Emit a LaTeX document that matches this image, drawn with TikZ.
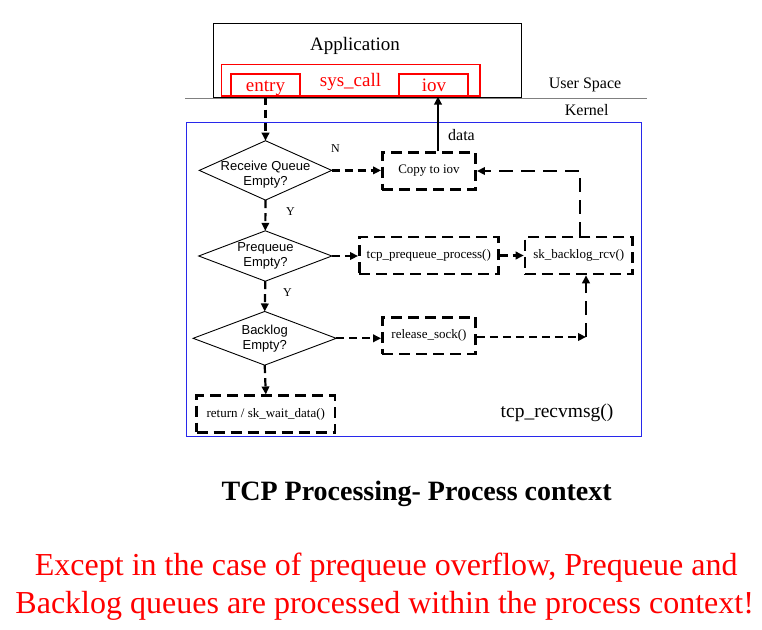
\documentclass[tikz,border=0pt]{standalone}
\usepackage{fontspec}
\setmainfont{Liberation Serif}
\newfontfamily\arialf{Liberation Sans}
\usetikzlibrary{arrows.meta,calc}
\definecolor{myred}{RGB}{255,0,0}
\definecolor{myblue}{RGB}{40,40,235}
\definecolor{mygray}{RGB}{128,128,128}
\begin{document}
\begin{tikzpicture}[x=1pt,y=-1pt,
  tip/.style={-{Triangle[length=8pt,width=7.5pt]}},
  dashbox/.style={draw, line width=2.5pt, dash pattern=on 11pt off 6pt, minimum width=#1, minimum height=37pt, inner sep=0pt, font=\fontsize{13}{15}\selectfont},
  decision/.style={minimum width=#1, inner sep=0pt, align=center, font=\arialf\fontsize{13}{15}\selectfont},
  dconn/.style={line width=2.2pt, dash pattern=on 8pt off 5pt, tip},
  lconn/.style={line width=2.2pt, dash pattern=on 14pt off 8pt, tip},
  lbl/.style={font=\fontsize{12}{14}\selectfont, inner sep=0pt},
  redbox/.style={draw=myred, line width=1.2pt}
]
\useasboundingbox (0,0) rectangle (762,629);

% user space
\node[draw, line width=1pt, minimum width=308pt, minimum height=74pt, inner sep=0pt] (app) at (367,60) {};
\node[anchor=base, font=\fontsize{19}{22}\selectfont, inner sep=0pt] (apptxt) at (355,50) {Application};
\node[redbox, minimum width=258.3pt, minimum height=31.7pt, inner sep=0pt] (sys) at (350.85,80.15) {};
\node[redbox, minimum width=69pt, minimum height=22pt, inner sep=0pt] (entry) at (265.5,85) {};
\node[redbox, minimum width=69pt, minimum height=22pt, inner sep=0pt] (iov) at (433.5,85) {};
\node[anchor=base, text=myred, font=\fontsize{19}{22}\selectfont, inner sep=0pt] (entrytxt) at (265.5,91) {entry};
\node[anchor=base, text=myred, font=\fontsize{19}{22}\selectfont, inner sep=0pt] (systxt) at (350.5,86.7) {sys\_call};
\node[anchor=base, text=myred, font=\fontsize{19}{22}\selectfont, inner sep=0pt] (iovtxt) at (434,91) {iov};

\coordinate (gl) at (185,98.3);
\coordinate (gr) at (647,98.3);
\draw[mygray, line width=1.5pt] (gl) -- (gr);
\node[anchor=base, font=\fontsize{16}{18}\selectfont, inner sep=0pt] (us) at (585,88.3) {User Space};
\node[anchor=base, font=\fontsize{16}{18}\selectfont, inner sep=0pt] (kn) at (586.7,115.7) {Kernel};

% kernel box
\node[draw=myblue, line width=1pt, minimum width=455pt, minimum height=314pt, inner sep=0pt] (kbox) at (413.5,279.7) {};

% decisions
\node[decision=132pt, minimum height=59pt] (rq) at (265.5,170.4) {};
\draw[line width=0.9pt] (rq.west) -- (rq.north) -- (rq.east) -- (rq.south) -- cycle;
\node[decision=132pt, align=center] (rqt) at (265.5,174.5) {Receive Queue\\Empty?};

\node[decision=132.7pt, minimum height=50pt] (pq) at (265.3,256) {};
\draw[line width=0.9pt] (pq.west) -- (pq.north) -- (pq.east) -- (pq.south) -- cycle;
\node[decision=132pt, align=center] (pqt) at (265.5,255.5) {Prequeue\\Empty?};

\node[decision=142.7pt, minimum height=53.3pt] (bl) at (264.7,338.3) {};
\draw[line width=0.9pt] (bl.west) -- (bl.north) -- (bl.east) -- (bl.south) -- cycle;
\node[decision=132pt, align=center] (blt) at (264.7,338.5) {Backlog\\Empty?};

% process boxes
\node[dashbox=93.4pt] (copy) at (429,171) {Copy to iov};
\node[dashbox=139pt] (tpp) at (428.8,255.5) {tcp\_prequeue\_process()};
\node[dashbox=107.7pt] (sbr) at (578.8,255.5) {sk\_backlog\_rcv()};
\node[dashbox=93.4pt, minimum height=36.7pt] (rel) at (429,335.7) {release\_sock()};
\node[dashbox=138.3pt, minimum height=36.6pt] (ret) at (265.8,414) {return / sk\_wait\_data()};

\node[anchor=base, font=\fontsize{19.5}{22}\selectfont, inner sep=0pt] (rm) at (557,417.5) {tcp\_recvmsg()};

% labels
\node[anchor=base, font=\fontsize{16}{18}\selectfont, inner sep=0pt] (data) at (461.5,140) {data};
\node[lbl] (n) at (335.5,149) {N};
\node[lbl] (y1) at (290.5,211.7) {Y};
\node[lbl] (y2) at (287.5,292.7) {Y};

% connectors
\draw[dconn] (entry.south) -- (rq.north);
\draw[line width=2pt, tip] ([xshift=9pt]copy.north) -- ([xshift=9pt]copy.north |- iov.south);
\draw[dconn] (rq.east) -- (rq.east -| copy.west);
\draw[dconn] (rq.south) -- (pq.north);
\draw[dconn] (pq.east) -- (pq.east -| tpp.west);
\draw[dconn] (tpp.east) -- (sbr.west);
\draw[lconn] ([xshift=1pt]sbr.north) |- (copy.east);
\draw[dconn] (pq.south) -- (bl.north);
\draw[dconn] (bl.east) -- (bl.east -| rel.west);
\coordinate (c1) at (586,337);
\draw[dconn] (rel.east |- c1) -- (c1);
\draw[lconn] (c1) -- (c1 |- sbr.south);
\draw[dconn] (bl.south) -- (ret.north);

% captions
\node[anchor=base, font=\bfseries\fontsize{28}{32}\selectfont, inner sep=0pt] (title) at (416.7,500) {TCP Processing- Process context};
\node[anchor=base, text=myred, font=\fontsize{32}{36}\selectfont, inner sep=0pt] (l1) at (386.2,575) {Except in the case of prequeue overflow, Prequeue and};
\node[anchor=base, text=myred, font=\fontsize{32}{36}\selectfont, inner sep=0pt] (l2) at (384.7,613.3) {Backlog queues are processed within the process context!};
\end{tikzpicture}
\end{document}
